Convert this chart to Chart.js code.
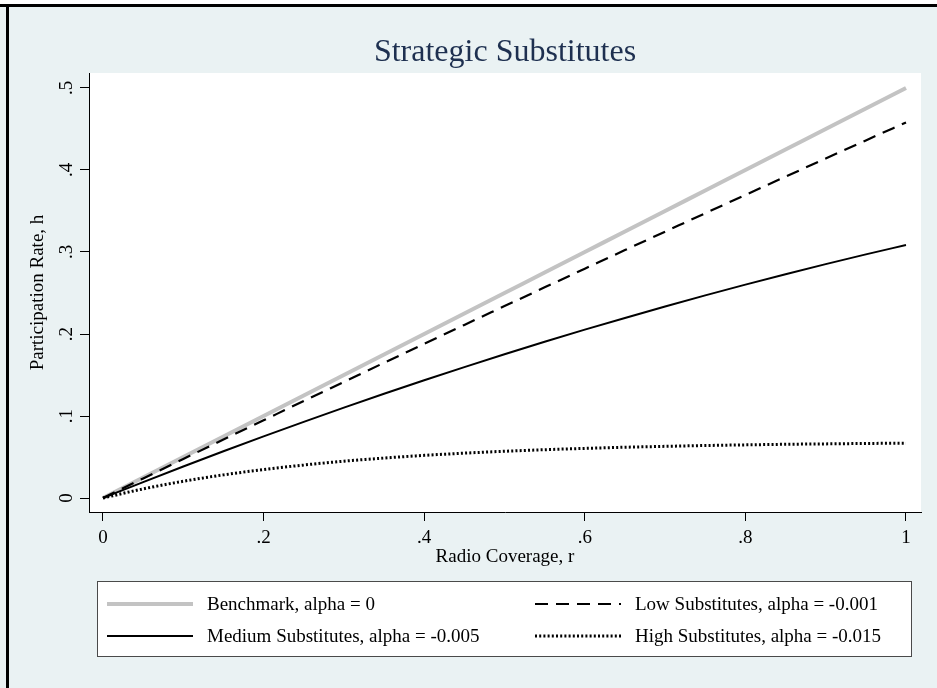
<!DOCTYPE html>
<html>
<head>
<meta charset="utf-8">
<title>Strategic Substitutes</title>
<script src="https://cdn.jsdelivr.net/npm/chart.js@4.4.0/dist/chart.umd.min.js"></script>
<style>
  html, body { margin: 0; padding: 0; background: #eaf2f3; }
</style>
</head>
<body>
<canvas id="myChart" width="937" height="688"></canvas>
<script>
// participation rate h against radio coverage r, one curve per alpha
const coverage   = [0, 0.05, 0.1, 0.15, 0.2, 0.25, 0.3, 0.35, 0.4, 0.45, 0.5, 0.55, 0.6, 0.65, 0.7, 0.75, 0.8, 0.85, 0.9, 0.95, 1];
const benchmark  = [0, 0.025, 0.05, 0.075, 0.1, 0.125, 0.15, 0.175, 0.2, 0.225, 0.25, 0.275, 0.3, 0.325, 0.35, 0.375, 0.4, 0.425, 0.45, 0.475, 0.5];
const lowSubs    = [0, 0.0239, 0.0476, 0.0713, 0.0948, 0.1183, 0.1416, 0.1649, 0.188, 0.2111, 0.234, 0.2569, 0.2796, 0.3023, 0.3248, 0.3473, 0.3696, 0.3919, 0.414, 0.4361, 0.458];
const mediumSubs = [0, 0.0194, 0.0384, 0.057, 0.0751, 0.0929, 0.1102, 0.1271, 0.1436, 0.1596, 0.1753, 0.1905, 0.2053, 0.2196, 0.2336, 0.2471, 0.2602, 0.2729, 0.2852, 0.2971, 0.3085];
const highSubs   = [0, 0.0111, 0.0204, 0.0282, 0.0347, 0.0402, 0.0449, 0.0487, 0.052, 0.0547, 0.057, 0.0589, 0.0605, 0.0619, 0.063, 0.064, 0.0648, 0.0655, 0.066, 0.0665, 0.0669];

const seriesLabels = [
    'Benchmark, alpha = 0',
    'Low Substitutes, alpha = -0.001',
    'Medium Substitutes, alpha = -0.005',
    'High Substitutes, alpha = -0.015'
];

const xTicks = [0, 0.2, 0.4, 0.6, 0.8, 1];
const xTickLabels = ['0', '.2', '.4', '.6', '.8', '1'];
const yTicks = [0, 0.1, 0.2, 0.3, 0.4, 0.5];
const yTickLabels = ['0', '.1', '.2', '.3', '.4', '.5'];

const serif = '"Liberation Serif", "Times New Roman", serif';

const toPoints = (ys) => coverage.map((r, i) => ({ x: r, y: ys[i] }));

// grey page, white plot region, black frame on top/left
const frame = {
    id: 'frame',
    beforeDraw(chart) {
        const { ctx, chartArea: a, width, height } = chart;
        ctx.save();
        ctx.fillStyle = '#eaf2f3';
        ctx.fillRect(0, 0, width, height);
        ctx.fillStyle = '#ffffff';
        ctx.fillRect(0, 0, width, 4);
        ctx.fillRect(a.left, a.top, a.right - a.left, a.bottom - a.top);
        ctx.fillStyle = '#000000';
        ctx.fillRect(0, 4, width, 3);
        ctx.fillRect(6, 4, 3, height - 4);
        ctx.restore();
    }
};

// boxed two-column key under the plot
const keyBox = {
    id: 'keyBox',
    afterDraw(chart) {
        const ctx = chart.ctx;
        const sets = chart.data.datasets;
        const slots = [[107, 604], [535, 604], [107, 636], [535, 636]];
        ctx.save();
        ctx.fillStyle = '#ffffff';
        ctx.fillRect(97.5, 581.5, 814, 75);
        ctx.strokeStyle = '#4a4a4a';
        ctx.lineWidth = 1;
        ctx.strokeRect(97.5, 581.5, 814, 75);
        sets.forEach((ds, i) => {
            const [x, y] = slots[i];
            ctx.beginPath();
            ctx.strokeStyle = ds.borderColor;
            ctx.lineWidth = ds.borderWidth;
            ctx.setLineDash(ds.borderDash || []);
            ctx.moveTo(x, y);
            ctx.lineTo(x + 86, y);
            ctx.stroke();
            ctx.setLineDash([]);
            ctx.fillStyle = '#000000';
            ctx.font = '19px ' + serif;
            ctx.textBaseline = 'middle';
            ctx.textAlign = 'left';
            ctx.fillText(ds.label, x + 100, y + 1);
        });
        ctx.restore();
    }
};

const ctx = document.getElementById('myChart');
new Chart(ctx, {
    type: 'line',
    data: {
        datasets: [
            {
                label: seriesLabels[0],
                data: toPoints(benchmark),
                borderColor: '#c3c3c3',
                borderWidth: 4,
                order: 4
            },
            {
                label: seriesLabels[1],
                data: toPoints(lowSubs),
                borderColor: '#000000',
                borderWidth: 2.2,
                borderDash: [13, 8],
                order: 2
            },
            {
                label: seriesLabels[2],
                data: toPoints(mediumSubs),
                borderColor: '#000000',
                borderWidth: 2,
                order: 1
            },
            {
                label: seriesLabels[3],
                data: toPoints(highSubs),
                borderColor: '#000000',
                borderWidth: 3,
                borderDash: [2, 2.2],
                order: 3
            }
        ]
    },
    options: {
        responsive: false,
        animation: false,
        devicePixelRatio: 1,
        layout: {
            padding: { left: 20, right: 16, top: 10, bottom: 118 }
        },
        elements: {
            point: { radius: 0 },
            line: { cubicInterpolationMode: 'monotone', fill: false }
        },
        plugins: {
            legend: { display: false },
            tooltip: { enabled: false },
            title: {
                display: true,
                text: 'Strategic Substitutes',
                fullSize: false,
                color: '#1e3050',
                font: { family: serif, size: 32, weight: 'normal' },
                padding: { top: 23.5, bottom: 1.1 }
            }
        },
        scales: {
            x: {
                type: 'linear',
                min: -0.01743,
                max: 1.01868,
                afterBuildTicks: (scale) => { scale.ticks = xTicks.map(v => ({ value: v })); },
                afterFit: (scale) => { scale.height = 58; },
                ticks: {
                    color: '#000000',
                    padding: 6,
                    font: { family: serif, size: 19 },
                    callback: (v) => xTickLabels[xTicks.indexOf(v)]
                },
                grid: {
                    display: true,
                    drawOnChartArea: false,
                    drawTicks: true,
                    tickLength: 9,
                    tickColor: '#000000'
                },
                border: { display: true, color: '#000000', width: 1 },
                title: {
                    display: true,
                    text: 'Radio Coverage, r',
                    color: '#000000',
                    font: { family: serif, size: 19 },
                    padding: { top: 0, bottom: 2 }
                }
            },
            y: {
                type: 'linear',
                min: -0.01707,
                max: 0.51829,
                afterBuildTicks: (scale) => { scale.ticks = yTicks.map(v => ({ value: v })); },
                afterFit: (scale) => { scale.width = 69; },
                ticks: {
                    color: '#000000',
                    padding: 6,
                    minRotation: 90,
                    maxRotation: 90,
                    crossAlign: 'center',
                    font: { family: serif, size: 19 },
                    callback: (v) => yTickLabels[yTicks.indexOf(v)]
                },
                grid: {
                    display: true,
                    drawOnChartArea: false,
                    drawTicks: true,
                    tickLength: 9,
                    tickColor: '#000000'
                },
                border: { display: true, color: '#000000', width: 1 },
                title: {
                    display: true,
                    text: 'Participation Rate, h',
                    color: '#000000',
                    font: { family: serif, size: 19 },
                    padding: { top: 6.6, bottom: 0 }
                }
            }
        }
    },
    plugins: [frame, keyBox]
});
</script>
</body>
</html>
